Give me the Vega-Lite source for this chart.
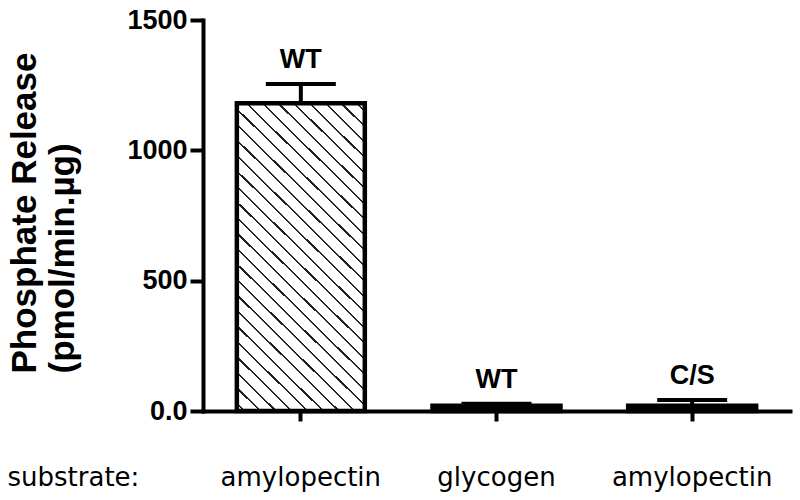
{
  "$schema": "https://vega.github.io/schema/vega-lite/v6.json",
  "width": 587,
  "height": 391,
  "autosize": {"type": "none"},
  "padding": {"left": 203, "top": 20, "right": 10, "bottom": 89},
  "background": "white",
  "config": {"view": {"stroke": null}},
  "data": {
    "values": [
      {"cond": "amylopectin WT", "enzyme": "WT", "value": 1181, "upper": 1254},
      {"cond": "glycogen WT", "enzyme": "WT", "value": 20, "upper": 28},
      {"cond": "amylopectin C/S", "enzyme": "C/S", "value": 20, "upper": 42}
    ]
  },
  "encoding": {
    "x": {
      "field": "cond",
      "type": "nominal",
      "sort": null,
      "scale": {"paddingInner": 0.346, "paddingOuter": 0.173},
      "axis": {
        "labelAngle": 0,
        "labelExpr": "split(datum.label, ' ')[0]",
        "labelFont": "DejaVu Sans",
        "labelFontSize": 26,
        "labelColor": "black",
        "labelBaseline": "alphabetic",
        "labelPadding": 64,
        "labelOverlap": false,
        "labelFlush": false,
        "domainColor": "black",
        "domainWidth": 4,
        "domainCap": "square",
        "tickColor": "black",
        "tickWidth": 4,
        "tickSize": 10,
        "title": "substrate:",
        "titleFont": "DejaVu Sans",
        "titleFontSize": 26,
        "titleFontWeight": "normal",
        "titleColor": "black",
        "titleAnchor": null,
        "titleAlign": "left",
        "titleBaseline": "alphabetic",
        "titleX": -196,
        "titleY": 74
      }
    }
  },
  "layer": [
    {
      "mark": {"type": "bar", "stroke": "black", "strokeWidth": 4.5},
      "encoding": {
        "y": {
          "field": "value",
          "type": "quantitative",
          "scale": {"domain": [0, 1500], "nice": false},
          "axis": {
            "values": [0, 500, 1000, 1500],
            "grid": false,
            "labelExpr": "datum.value == 0 ? '0.0' : datum.value",
            "labelFont": "Liberation Sans",
            "labelFontWeight": "bold",
            "labelFontSize": 27,
            "labelColor": "black",
            "labelPadding": 3,
            "labelFlush": false,
            "labelOverlap": false,
            "domainColor": "black",
            "domainWidth": 4,
            "domainCap": "square",
            "tickColor": "black",
            "tickWidth": 4,
            "tickSize": 13,
            "title": ["Phosphate Release", "(pmol/min.µg)"],
            "titleFont": "Liberation Sans",
            "titleFontWeight": "bold",
            "titleFontSize": 35,
            "titleColor": "black",
            "titleAngle": -90,
            "titleAnchor": null,
            "titleAlign": "left",
            "titleBaseline": "top",
            "titleX": -196,
            "titleY": 353,
            "titleLineHeight": 38
          }
        },
        "fill": {
          "condition": {"test": "datum.value < 100", "value": "black"},
          "value": {
            "gradient": "linear",
            "x1": 0, "y1": 1, "x2": 0.494, "y2": -0.207,
            "stops": [
              {"offset": 0, "color": "#fff"},
              {"offset": 0.015, "color": "#fff"}, {"offset": 0.015, "color": "#222"}, {"offset": 0.02, "color": "#222"}, {"offset": 0.02, "color": "#fff"},
              {"offset": 0.0507, "color": "#fff"}, {"offset": 0.0507, "color": "#222"}, {"offset": 0.0557, "color": "#222"}, {"offset": 0.0557, "color": "#fff"},
              {"offset": 0.0864, "color": "#fff"}, {"offset": 0.0864, "color": "#222"}, {"offset": 0.0914, "color": "#222"}, {"offset": 0.0914, "color": "#fff"},
              {"offset": 0.1221, "color": "#fff"}, {"offset": 0.1221, "color": "#222"}, {"offset": 0.1271, "color": "#222"}, {"offset": 0.1271, "color": "#fff"},
              {"offset": 0.1579, "color": "#fff"}, {"offset": 0.1579, "color": "#222"}, {"offset": 0.1629, "color": "#222"}, {"offset": 0.1629, "color": "#fff"},
              {"offset": 0.1936, "color": "#fff"}, {"offset": 0.1936, "color": "#222"}, {"offset": 0.1986, "color": "#222"}, {"offset": 0.1986, "color": "#fff"},
              {"offset": 0.2293, "color": "#fff"}, {"offset": 0.2293, "color": "#222"}, {"offset": 0.2343, "color": "#222"}, {"offset": 0.2343, "color": "#fff"},
              {"offset": 0.265, "color": "#fff"}, {"offset": 0.265, "color": "#222"}, {"offset": 0.27, "color": "#222"}, {"offset": 0.27, "color": "#fff"},
              {"offset": 0.3007, "color": "#fff"}, {"offset": 0.3007, "color": "#222"}, {"offset": 0.3057, "color": "#222"}, {"offset": 0.3057, "color": "#fff"},
              {"offset": 0.3364, "color": "#fff"}, {"offset": 0.3364, "color": "#222"}, {"offset": 0.3414, "color": "#222"}, {"offset": 0.3414, "color": "#fff"},
              {"offset": 0.3721, "color": "#fff"}, {"offset": 0.3721, "color": "#222"}, {"offset": 0.3771, "color": "#222"}, {"offset": 0.3771, "color": "#fff"},
              {"offset": 0.4079, "color": "#fff"}, {"offset": 0.4079, "color": "#222"}, {"offset": 0.4129, "color": "#222"}, {"offset": 0.4129, "color": "#fff"},
              {"offset": 0.4436, "color": "#fff"}, {"offset": 0.4436, "color": "#222"}, {"offset": 0.4486, "color": "#222"}, {"offset": 0.4486, "color": "#fff"},
              {"offset": 0.4793, "color": "#fff"}, {"offset": 0.4793, "color": "#222"}, {"offset": 0.4843, "color": "#222"}, {"offset": 0.4843, "color": "#fff"},
              {"offset": 0.515, "color": "#fff"}, {"offset": 0.515, "color": "#222"}, {"offset": 0.52, "color": "#222"}, {"offset": 0.52, "color": "#fff"},
              {"offset": 0.5507, "color": "#fff"}, {"offset": 0.5507, "color": "#222"}, {"offset": 0.5557, "color": "#222"}, {"offset": 0.5557, "color": "#fff"},
              {"offset": 0.5864, "color": "#fff"}, {"offset": 0.5864, "color": "#222"}, {"offset": 0.5914, "color": "#222"}, {"offset": 0.5914, "color": "#fff"},
              {"offset": 0.6221, "color": "#fff"}, {"offset": 0.6221, "color": "#222"}, {"offset": 0.6271, "color": "#222"}, {"offset": 0.6271, "color": "#fff"},
              {"offset": 0.6579, "color": "#fff"}, {"offset": 0.6579, "color": "#222"}, {"offset": 0.6629, "color": "#222"}, {"offset": 0.6629, "color": "#fff"},
              {"offset": 0.6936, "color": "#fff"}, {"offset": 0.6936, "color": "#222"}, {"offset": 0.6986, "color": "#222"}, {"offset": 0.6986, "color": "#fff"},
              {"offset": 0.7293, "color": "#fff"}, {"offset": 0.7293, "color": "#222"}, {"offset": 0.7343, "color": "#222"}, {"offset": 0.7343, "color": "#fff"},
              {"offset": 0.765, "color": "#fff"}, {"offset": 0.765, "color": "#222"}, {"offset": 0.77, "color": "#222"}, {"offset": 0.77, "color": "#fff"},
              {"offset": 0.8007, "color": "#fff"}, {"offset": 0.8007, "color": "#222"}, {"offset": 0.8057, "color": "#222"}, {"offset": 0.8057, "color": "#fff"},
              {"offset": 0.8364, "color": "#fff"}, {"offset": 0.8364, "color": "#222"}, {"offset": 0.8414, "color": "#222"}, {"offset": 0.8414, "color": "#fff"},
              {"offset": 0.8721, "color": "#fff"}, {"offset": 0.8721, "color": "#222"}, {"offset": 0.8771, "color": "#222"}, {"offset": 0.8771, "color": "#fff"},
              {"offset": 0.9079, "color": "#fff"}, {"offset": 0.9079, "color": "#222"}, {"offset": 0.9129, "color": "#222"}, {"offset": 0.9129, "color": "#fff"},
              {"offset": 0.9436, "color": "#fff"}, {"offset": 0.9436, "color": "#222"}, {"offset": 0.9486, "color": "#222"}, {"offset": 0.9486, "color": "#fff"},
              {"offset": 0.9793, "color": "#fff"}, {"offset": 0.9793, "color": "#222"}, {"offset": 0.9843, "color": "#222"}, {"offset": 0.9843, "color": "#fff"},
              {"offset": 1, "color": "#fff"}
            ]
          }
        }
      }
    },
    {
      "mark": {"type": "rule", "color": "black", "strokeWidth": 4},
      "encoding": {
        "y": {"field": "value", "type": "quantitative"},
        "y2": {"field": "upper"}
      }
    },
    {
      "mark": {"type": "tick", "color": "black", "size": 70, "thickness": 4, "opacity": 1},
      "encoding": {
        "y": {"field": "upper", "type": "quantitative"}
      }
    },
    {
      "mark": {"type": "text", "font": "Liberation Sans", "fontWeight": "bold", "fontSize": 27, "color": "black", "baseline": "alphabetic", "dy": -16},
      "encoding": {
        "y": {"field": "upper", "type": "quantitative"},
        "text": {"field": "enzyme"}
      }
    }
  ]
}
